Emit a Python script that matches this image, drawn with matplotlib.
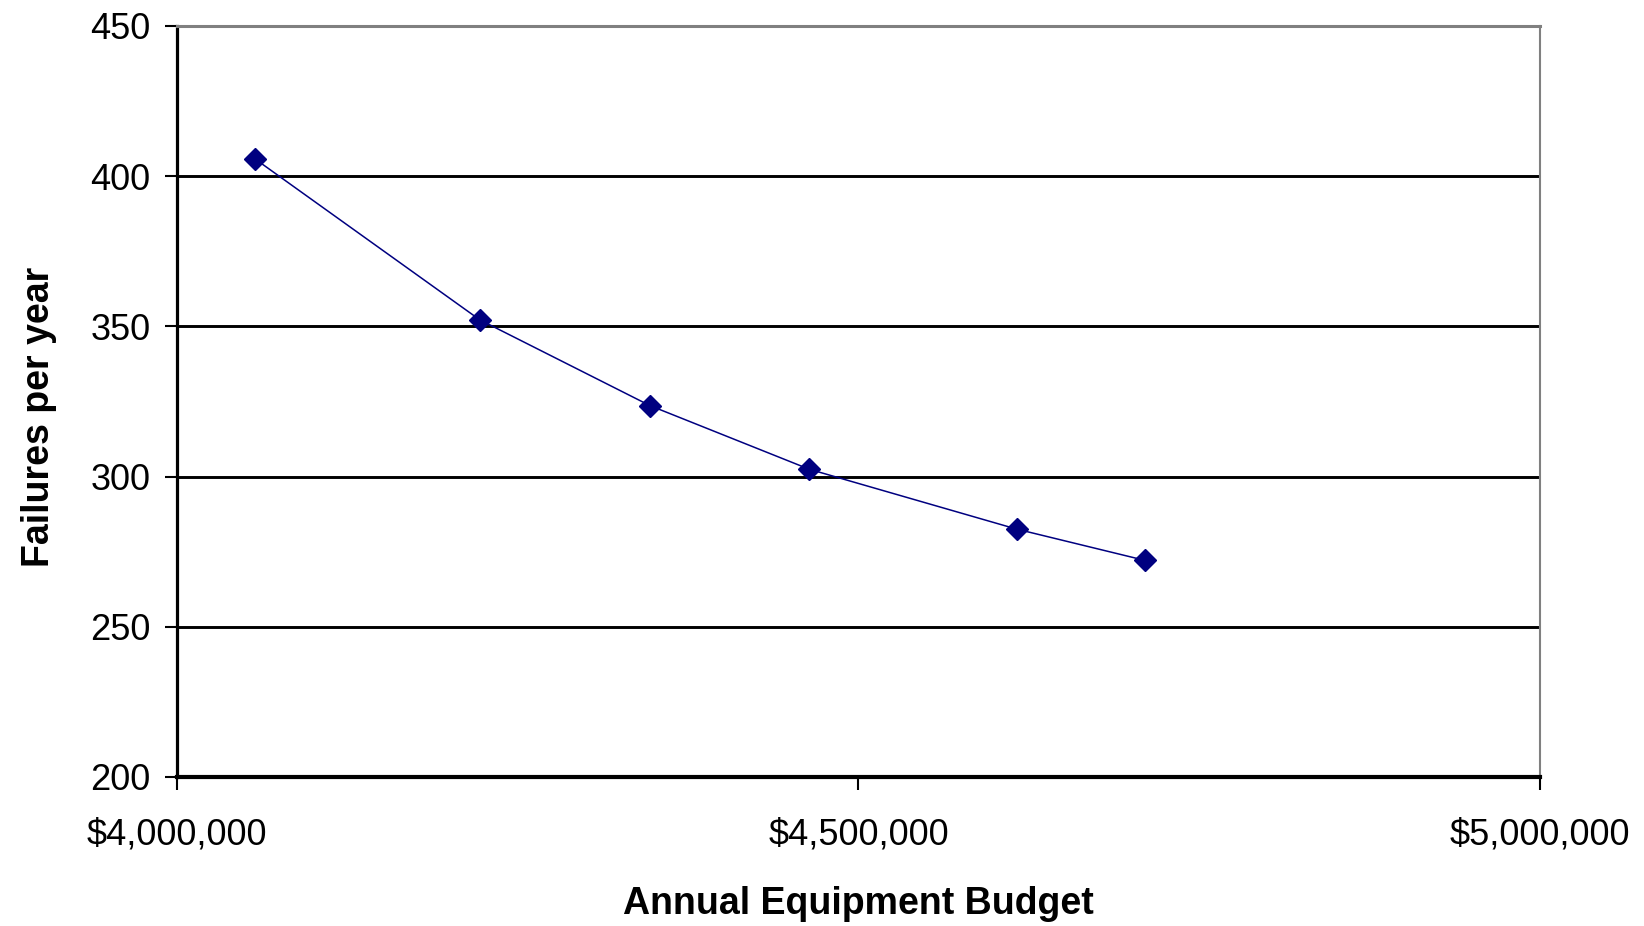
import matplotlib.pyplot as plt
from matplotlib.ticker import FuncFormatter

plt.rcParams['font.family'] = ['Liberation Sans', 'DejaVu Sans']

# budget vs failures
budget = [4057000, 4222000, 4347000, 4464000, 4616000, 4710000]
failures = [405.8, 352.2, 323.6, 302.4, 282.5, 272.1]

x_ticks = [4000000, 4500000, 5000000]
y_ticks = [200, 250, 300, 350, 400, 450]

fig = plt.figure(figsize=(16.44, 9.26), dpi=100)
ax = fig.add_axes([0.1077, 0.161, 0.829, 0.811])

for y in y_ticks[1:-1]:
    ax.axhline(y, color='black', linewidth=2.1, zorder=1)

ax.plot(budget, failures, color='#000080', linewidth=1.1,
        marker='D', markersize=11, zorder=3)

ax.set_xlim(4000000, 5000000)
ax.set_ylim(200, 450)
ax.set_xticks(x_ticks)
ax.set_yticks(y_ticks)
ax.xaxis.set_major_formatter(FuncFormatter(lambda v, p: '${:,.0f}'.format(v)))

ax.spines['left'].set_color('black')
ax.spines['left'].set_linewidth(2.3)
ax.spines['bottom'].set_color('black')
ax.spines['bottom'].set_linewidth(3.0)
ax.spines['top'].set_color('#808080')
ax.spines['top'].set_linewidth(2.2)
ax.spines['right'].set_color('#808080')
ax.spines['right'].set_linewidth(1.5)

ax.tick_params(axis='y', direction='out', length=9, width=1.5, pad=10, labelsize=26)
ax.tick_params(axis='x', direction='out', length=9, width=1.5, pad=20, labelsize=26)

ax.set_xlabel('Annual Equipment Budget', fontsize=27, fontweight='bold', labelpad=24)
ax.set_ylabel('Failures per year', fontsize=27, fontweight='bold', labelpad=24, y=0.479)

fig.savefig('out.png', dpi=100)
